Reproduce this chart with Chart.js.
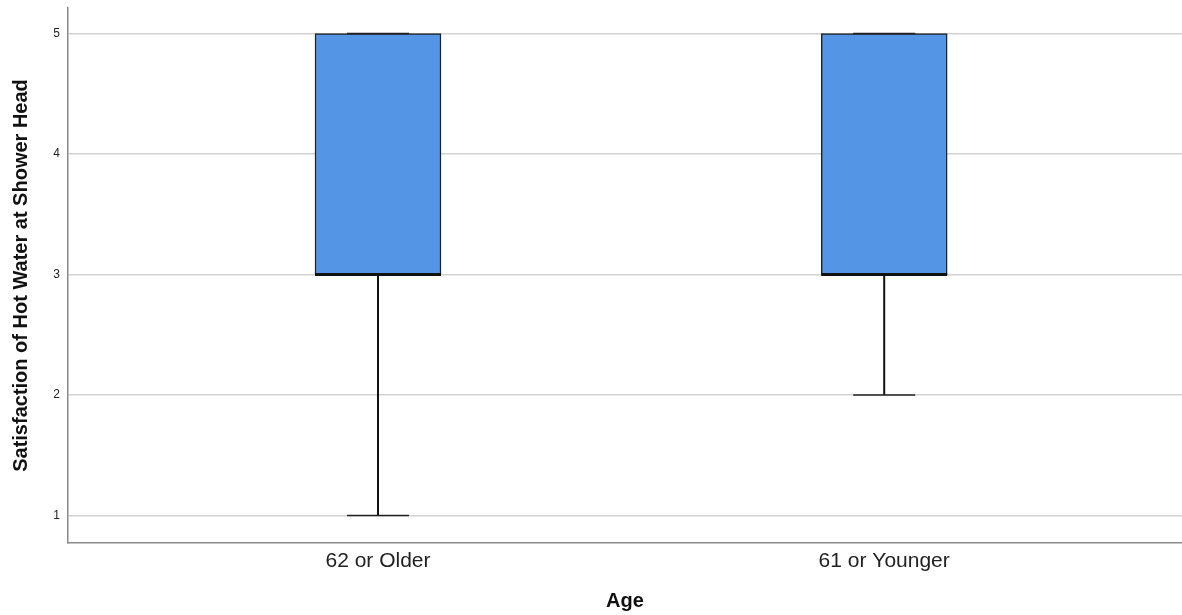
<!DOCTYPE html>
<html>
<head>
<meta charset="utf-8">
<script src="https://cdn.jsdelivr.net/npm/chart.js@4"></script>
<style>
  body { margin: 0; background: #fff; }
  #wrap { width: 1182px; height: 615px; position: relative; }
</style>
</head>
<body>
<div id="wrap"><canvas id="boxChart"></canvas></div>
<script>
// box plot summary per age group
const categories = ['62 or Older', '61 or Younger'];
const mins = [1, 2];
const q1s = [3, 3];
const medians = [3, 3];
const q3s = [5, 5];
const maxs = [5, 5];
const yTicks = [1, 2, 3, 4, 5];

const boxColor = '#5595e5';
const lineColor = '#111111';

const whiskers = [];
categories.forEach((c, i) => {
  whiskers.push({
    type: 'line',
    data: [{ x: i, y: mins[i] }, { x: i, y: q1s[i] }],
    borderColor: lineColor,
    borderWidth: 2,
    pointRadius: 0,
    order: 1
  });
  whiskers.push({
    type: 'line',
    data: [{ x: i, y: q3s[i] }, { x: i, y: maxs[i] }],
    borderColor: lineColor,
    borderWidth: 2,
    pointRadius: 0,
    order: 1
  });
});

const caps = categories.flatMap((c, i) => [{ x: i, y: mins[i] }, { x: i, y: maxs[i] }]);

new Chart(document.getElementById('boxChart'), {
  type: 'bar',
  data: {
    datasets: [
      {
        type: 'scatter',
        data: categories.map((c, i) => ({ x: i, y: medians[i] })),
        pointStyle: 'line',
        pointRadius: 63,
        pointBorderWidth: 3,
        pointBorderColor: lineColor,
        order: 0
      },
      {
        type: 'scatter',
        data: caps,
        pointStyle: 'line',
        pointRadius: 31,
        pointBorderWidth: 1.5,
        pointBorderColor: '#222',
        order: 1
      },
      ...whiskers,
      {
        type: 'bar',
        data: categories.map((c, i) => ({ x: i, y: [q1s[i], q3s[i]] })),
        backgroundColor: boxColor,
        borderColor: '#222',
        borderWidth: 1.5,
        borderSkipped: false,
        barThickness: 126,
        order: 3
      }
    ]
  },
  options: {
    responsive: true,
    maintainAspectRatio: false,
    animation: false,
    layout: { autoPadding: false, padding: { top: 8, right: 0, left: 0, bottom: 0 } },
    plugins: {
      legend: { display: false },
      tooltip: { enabled: false }
    },
    scales: {
      x: {
        type: 'linear',
        offset: false,
        min: -0.6124,
        max: 1.5883,
        afterBuildTicks: (scale) => { scale.ticks = categories.map((c, i) => ({ value: i })); },
        afterFit: (scale) => {
          scale.height = 72;
          scale.paddingLeft = 0;
          scale.paddingRight = 0;
        },
        grid: { display: true, color: 'rgba(0,0,0,0)', drawTicks: false },
        border: { display: true, color: '#8a8a8a', width: 1.5 },
        ticks: {
          padding: 6,
          color: '#222',
          font: { family: 'Liberation Sans', size: 21 },
          callback: (v) => categories[v] ?? ''
        },
        title: {
          display: true,
          text: 'Age',
          color: '#111',
          font: { family: 'Liberation Sans', size: 20, weight: 'bold' },
          padding: { top: 0, bottom: 2 }
        }
      },
      y: {
        min: 0.772,
        max: 5.212,
        afterBuildTicks: (scale) => { scale.ticks = yTicks.map(v => ({ value: v })); },
        afterFit: (scale) => {
          scale.width = 68;
          scale.paddingTop = 0;
          scale.paddingBottom = 0;
        },
        grid: { color: '#d2d2d2', lineWidth: 1.5, drawTicks: false },
        border: { display: true, color: '#8a8a8a', width: 1.5 },
        ticks: {
          padding: 8,
          color: '#222',
          font: { family: 'Liberation Sans', size: 12 }
        },
        title: {
          display: true,
          text: 'Satisfaction of Hot Water at Shower Head',
          color: '#111',
          font: { family: 'Liberation Sans', size: 20, weight: 'bold' },
          padding: { top: 9, bottom: 0 }
        }
      }
    }
  }
});
</script>
</body>
</html>
